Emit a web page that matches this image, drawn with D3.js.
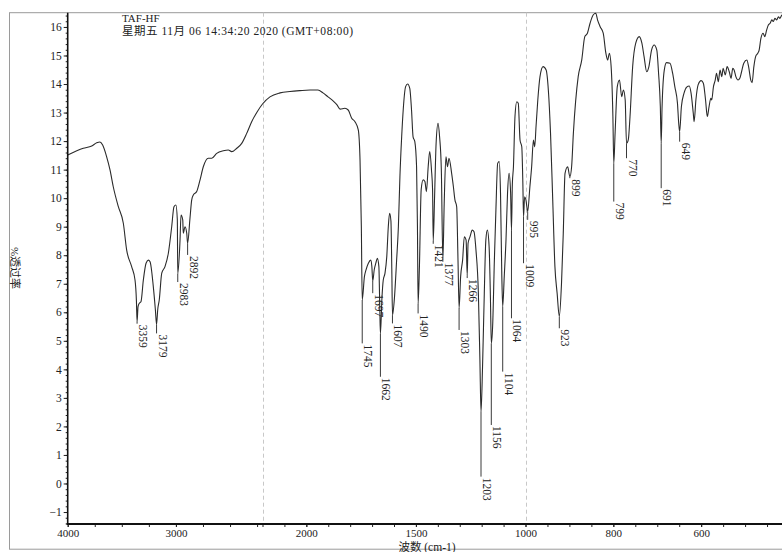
<!DOCTYPE html>
<html>
<head>
<meta charset="utf-8">
<script src="https://cdn.jsdelivr.net/npm/d3@7"></script>
<style>
  html, body { margin: 0; padding: 0; background: #fff; overflow: hidden; }
  svg { display: block; }
  text { font-family: "Liberation Serif", "Noto Sans CJK SC", serif; fill: #222; }
</style>
</head>
<body>
<svg id="chart" width="782" height="552"></svg>
<script>
// IR spectrum of sample TAF-HF: wavenumber (cm-1) and %transmittance
const wavenumber = [
  4000, 3856, 3778, 3732, 3702, 3677, 3640, 3609, 3579, 3532, 3486, 3455, 3409, 3378, 3365, 3359,
  3350, 3338, 3323, 3301, 3276, 3255, 3239, 3209, 3190, 3179, 3168, 3154, 3131, 3101, 3070, 3039,
  3018, 3000, 2987, 2983, 2962, 2953, 2937, 2932, 2916, 2900, 2892, 2870, 2854, 2839, 2808, 2777,
  2747, 2701, 2669, 2623, 2562, 2516, 2485, 2438, 2392, 2346, 2300, 2250, 2200, 2166, 2120, 2075,
  2029, 1983, 1947, 1924, 1901, 1878, 1860, 1846, 1824, 1809, 1793, 1778, 1763, 1755, 1749, 1745,
  1735, 1728, 1717, 1706, 1701, 1697, 1690, 1683, 1676, 1669, 1665, 1662, 1655, 1649, 1641, 1633,
  1626, 1620, 1614, 1610, 1607, 1598, 1588, 1580, 1573, 1565, 1558, 1547, 1538, 1528, 1520, 1513,
  1505, 1497, 1493, 1490, 1484, 1476, 1467, 1459, 1452, 1444, 1437, 1429, 1424, 1421, 1415, 1408,
  1399, 1392, 1384, 1377, 1371, 1363, 1356, 1349, 1337, 1329, 1322, 1314, 1308, 1303, 1296, 1287,
  1279, 1271, 1266, 1262, 1253, 1243, 1235, 1226, 1215, 1208, 1203, 1196, 1188, 1181, 1174, 1166,
  1160, 1156, 1150, 1142, 1135, 1127, 1120, 1114, 1108, 1104, 1097, 1089, 1082, 1075, 1068, 1064,
  1060, 1055, 1048, 1040, 1033, 1025, 1017, 1012, 1009, 1004, 999, 995, 990, 986, 982, 979,
  976, 972, 967, 960, 953, 948, 943, 938, 933, 928, 923, 918, 914, 910, 904, 899,
  895, 891, 880, 872, 865, 859, 853, 846, 840, 836, 830, 823, 817, 813, 809, 805,
  801, 799, 796, 791, 786, 781, 777, 773, 770, 766, 762, 756, 749, 741, 735, 730,
  724, 719, 713, 707, 701, 697, 693, 691, 689, 684, 679, 671, 665, 660, 654, 651,
  649, 645, 639, 633, 627, 623, 618, 616, 612, 607, 600, 595, 590, 586, 582, 578,
  576, 572, 568, 565, 561, 557, 553, 550, 545, 541, 536, 532, 528, 525, 521, 516,
  512, 508, 503, 496, 492, 487, 484, 480, 476, 471, 468, 464, 459, 455, 451, 447,
  443, 439, 436, 432, 428, 424, 421, 416, 400
];
const transmittance = [
  11.51, 11.75, 11.83, 11.94, 11.97, 11.86, 11.45, 10.99, 10.40, 9.70, 9.12, 8.18, 7.60, 7.13, 6.40, 5.67,
  6.20, 6.32, 6.37, 7.13, 7.72, 7.83, 7.77, 6.90, 6.10, 5.58, 6.10, 6.43, 7.37, 7.60, 8.07, 9.00,
  9.70, 9.76, 9.24, 7.35, 8.53, 9.41, 9.24, 8.77, 9.00, 8.77, 8.42, 9.30, 9.94, 10.11, 10.23, 10.64,
  11.10, 11.40, 11.40, 11.57, 11.66, 11.69, 11.63, 11.75, 11.92, 12.27, 12.68, 13.02, 13.30, 13.55, 13.69, 13.74,
  13.77, 13.79, 13.79, 13.69, 13.55, 13.41, 13.27, 13.12, 13.15, 13.09, 12.80, 12.68, 12.39, 11.34, 9.00, 6.43,
  7.25, 7.48, 7.72, 7.83, 7.60, 7.10, 7.50, 7.72, 7.89, 7.60, 6.20, 5.25, 6.50, 7.13, 7.37, 7.95,
  9.00, 9.47, 9.20, 7.50, 5.90, 6.50, 7.83, 9.00, 10.75, 12.15, 13.09, 13.91, 14.00, 13.85, 13.09, 12.15,
  11.98, 11.10, 9.00, 6.30, 7.60, 10.30, 10.64, 10.58, 10.23, 11.10, 11.63, 10.99, 10.30, 8.50, 10.00, 11.90,
  12.62, 12.15, 10.99, 7.83, 9.80, 11.45, 11.10, 11.40, 10.87, 10.40, 9.94, 9.70, 7.83, 6.15, 7.25, 7.83,
  8.65, 8.53, 7.30, 8.42, 8.65, 8.88, 8.82, 8.18, 6.67, 4.33, 2.50, 4.09, 6.67, 8.53, 8.88, 8.30,
  6.50, 4.91, 5.50, 7.83, 9.59, 11.22, 11.28, 10.17, 7.25, 6.20, 7.25, 8.53, 10.17, 10.87, 10.20, 8.88,
  10.50, 11.10, 12.86, 13.38, 13.33, 12.04, 11.80, 10.50, 9.35, 10.05, 9.94, 9.53, 10.40, 11.10, 12.04, 11.80,
  12.51, 13.44, 14.26, 14.61, 14.49, 13.79, 12.27, 9.94, 7.60, 6.67, 5.85, 7.02, 8.77, 10.87, 11.10, 10.75,
  11.10, 12.27, 14.26, 14.84, 15.66, 15.78, 16.13, 16.42, 16.48, 16.25, 16.01, 15.78, 15.08, 14.84, 15.08, 14.61,
  12.86, 11.22, 12.27, 13.91, 14.14, 13.56, 13.79, 13.44, 11.92, 12.04, 12.86, 14.61, 15.43, 15.66, 15.43, 14.96,
  14.43, 14.61, 15.19, 15.37, 15.19, 14.38, 13.21, 11.92, 13.21, 14.49, 14.75, 14.73, 14.38, 13.91, 13.33, 12.60,
  12.33, 13.21, 13.68, 13.89, 13.93, 13.68, 12.98, 12.68, 13.44, 13.97, 14.12, 14.03, 13.44, 12.86, 13.21, 13.50,
  13.44, 13.91, 14.14, 14.38, 14.08, 14.49, 14.26, 14.55, 14.32, 14.61, 14.43, 14.20, 14.55, 14.49, 14.26, 14.14,
  14.20, 14.43, 14.73, 14.84, 14.61, 14.14, 14.05, 14.61, 14.96, 15.08, 15.19, 15.60, 15.78, 15.66, 15.89, 16.07,
  16.13, 16.25, 16.19, 16.30, 16.25, 16.36, 16.30, 16.42, 16.45
];

// Picked peaks and the %T level where each peak's label begins
const peakWavenumber = [3359, 3179, 2983, 2892, 1745, 1697, 1662, 1607, 1490, 1421, 1377, 1303, 1266,
                        1203, 1156, 1104, 1064, 1009, 995, 923, 899, 799, 770, 691, 649];
const peakLabelLevel = [5.6, 5.26, 7.06, 8.01, 4.91, 6.67, 3.74, 5.61, 5.96, 8.4, 7.77, 5.38, 7.2,
                        0.24, 2.05, 3.92, 5.79, 7.72, 9.24, 5.44, 10.7, 9.88, 11.4, 10.35, 11.98];

const xTickLabels = [4000, 3000, 2000, 1500, 1000, 800, 600];
const yTickLabels = d3.range(-1, 17);
const sampleName = "TAF-HF";
const timestamp = "星期五 11月 06 14:34:20 2020 (GMT+08:00)";
const xTitle = "波数 (cm-1)";
const yTitle = "%透过率";

(function draw() {
  const svg = d3.select("#chart");
  const plotLeft = 67.7, plotTop = 12.7, plotBottom = 524, plotRight = 789;

  // Segmented wavenumber axis: 4000-2200, 2200-1000, 1000-400 cm-1 each on its own scale
  const x = d3.scaleLinear().domain([4000, 2200, 1000, 400]).range([plotLeft, 262.5, 525.5, plotRight]);
  const y = d3.scaleLinear().domain([-1.42, 16.5]).range([plotBottom, plotTop]);

  // outer frame
  svg.append("rect")
    .attr("x", 9.5).attr("y", plotTop).attr("width", 820).attr("height", 536.5)
    .attr("fill", "none").attr("stroke", "#9a9a9a").attr("stroke-width", 1);

  // dashed guides at the scale breaks
  svg.selectAll("line.guide").data([2200, 1000]).join("line")
    .attr("class", "guide")
    .attr("x1", d => Math.round(x(d)) + 0.5).attr("x2", d => Math.round(x(d)) + 0.5)
    .attr("y1", plotTop).attr("y2", plotBottom)
    .attr("stroke", "#c8c8c8").attr("stroke-dasharray", "4,3").attr("stroke-width", 1);

  // title block
  svg.append("text").attr("x", 122).attr("y", 21.5).attr("font-size", 11).text(sampleName);
  svg.append("text").attr("x", 122).attr("y", 34.5).attr("font-size", 11.5)
    .attr("textLength", 231).attr("lengthAdjust", "spacing").text(timestamp);

  // spectrum
  const pts = wavenumber.map((w, i) => [w, transmittance[i]]);
  const line = d3.line().x(d => x(d[0])).y(d => y(d[1])).curve(d3.curveMonotoneX);
  svg.append("path").datum(pts).attr("d", line)
    .attr("fill", "none").attr("stroke", "#2b2b2b").attr("stroke-width", 1.1)
    .attr("stroke-linejoin", "round");

  // peak markers: leader from the band minimum down to the rotated label
  const peaks = peakWavenumber.map((w, i) => ({
    w, t: transmittance[wavenumber.indexOf(w)], level: peakLabelLevel[i]
  }));
  svg.selectAll("line.leader").data(peaks).join("line")
    .attr("class", "leader")
    .attr("x1", d => x(d.w)).attr("x2", d => x(d.w))
    .attr("y1", d => y(d.t)).attr("y2", d => y(d.level))
    .attr("stroke", "#3a3a3a").attr("stroke-width", 1);
  svg.selectAll("text.peak").data(peaks).join("text")
    .attr("class", "peak")
    .attr("transform", d => `translate(${x(d.w) + 2},${y(d.level) + 1}) rotate(90)`)
    .attr("font-size", 11.5).attr("fill", "#333")
    .text(d => d.w);

  // y axis
  const yMinor = d3.range(-1.4, 16.5, 0.2).map(v => +v.toFixed(1));
  const yAxis = svg.append("g").attr("transform", `translate(${plotLeft},0)`);
  yAxis.call(d3.axisLeft(y).tickValues(yMinor).tickSize(2).tickFormat(""));
  yAxis.append("g").call(d3.axisLeft(y).tickValues(yTickLabels).tickSize(4).tickPadding(2));
  yAxis.selectAll(".domain").attr("stroke", "none");
  yAxis.selectAll("line").attr("stroke", "#222");
  yAxis.selectAll("text").attr("font-size", 11.5).attr("fill", "#222")
    .attr("font-family", "Liberation Serif");
  svg.append("line").attr("x1", plotLeft).attr("x2", plotLeft).attr("y1", plotTop).attr("y2", plotBottom + 1)
    .attr("stroke", "#111").attr("stroke-width", 1.6);

  // x axis
  const xMinor = [].concat(d3.range(4000, 2200, -250), d3.range(2200, 1000, -100), d3.range(1000, 399, -50));
  const xAxis = svg.append("g").attr("transform", `translate(0,${plotBottom})`);
  xAxis.call(d3.axisBottom(x).tickValues(xMinor).tickSize(3).tickFormat(""));
  xAxis.append("g").call(d3.axisBottom(x).tickValues(xTickLabels).tickSize(3).tickPadding(2)
    .tickFormat(d3.format("d")));
  xAxis.selectAll(".domain").attr("stroke", "none");
  xAxis.selectAll("line").attr("stroke", "#222");
  xAxis.selectAll("text").attr("font-size", 11).attr("fill", "#222")
    .attr("font-family", "Liberation Serif");
  svg.append("line").attr("x1", plotLeft - 1).attr("x2", plotRight).attr("y1", plotBottom).attr("y2", plotBottom)
    .attr("stroke", "#111").attr("stroke-width", 2);

  // axis titles
  svg.append("text").attr("x", 427).attr("y", 550.5).attr("text-anchor", "middle")
    .attr("font-size", 11.5).text(xTitle);
  svg.append("text").attr("transform", "translate(11,268) rotate(90)")
    .attr("text-anchor", "middle").attr("font-size", 11).text(yTitle);
})();
</script>
</body>
</html>
